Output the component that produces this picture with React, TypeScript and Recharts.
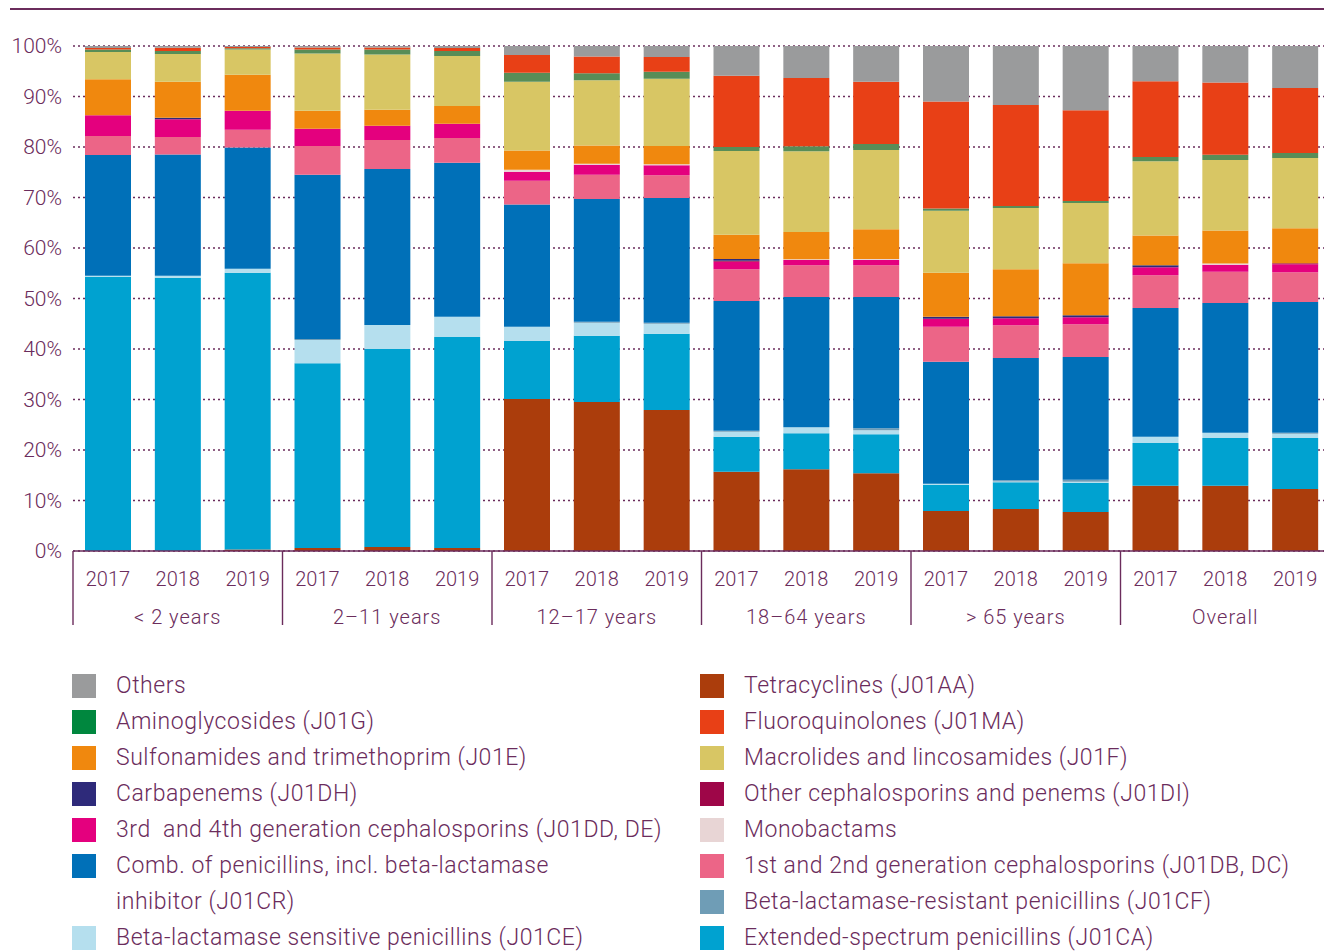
import React from "react";
import { BarChart, Bar, XAxis, YAxis, CartesianGrid } from "recharts";

const groups = ["< 2 years", "2–11 years", "12–17 years", "18–64 years", "> 65 years", "Overall"];
const years = ["2017", "2018", "2019"];
const yTicks = [0, 10, 20, 30, 40, 50, 60, 70, 80, 90, 100];

// values in % per bar (18 bars: 6 groups x 3 years)
const tetracyclines = [0, 0, 0.3, 0.6, 0.8, 0.6, 30.1, 29.5, 27.9, 15.7, 16.2, 15.4, 7.9, 8.3, 7.7, 12.9, 12.9, 12.3];
const extendedSpectrum = [54.3, 54.1, 54.8, 36.6, 39.2, 41.8, 11.5, 13.1, 15.1, 6.9, 7.1, 7.7, 5.2, 5.3, 5.8, 8.5, 9.5, 10.1];
const blSensitive = [0.2, 0.4, 0.8, 4.6, 4.75, 4.0, 2.8, 2.6, 2.0, 1.0, 1.2, 0.8, 0.2, 0.15, 0.2, 1.2, 1.0, 0.8];
const blResistant = [0, 0, 0, 0.2, 0, 0, 0, 0.2, 0.2, 0.2, 0, 0.4, 0, 0.25, 0.4, 0, 0, 0.2];
const combPenicillins = [23.9, 24.0, 24.0, 32.5, 30.9, 30.5, 24.2, 24.3, 24.7, 25.7, 25.8, 26.0, 24.2, 24.2, 24.3, 25.5, 25.7, 25.9];
const ceph12 = [3.8, 3.5, 3.5, 5.7, 5.75, 4.9, 4.7, 4.8, 4.5, 6.3, 6.3, 6.3, 6.9, 6.5, 6.5, 6.5, 6.2, 5.9];
const ceph34 = [4.1, 3.5, 3.8, 3.4, 2.8, 2.8, 1.8, 2.0, 2.0, 1.5, 1.0, 1.0, 1.6, 1.4, 1.4, 1.6, 1.4, 1.6];
const monobactams = [0, 0, 0, 0, 0, 0, 0.4, 0.2, 0.2, 0, 0.15, 0.2, 0, 0, 0, 0, 0.25, 0];
const otherCeph = [0, 0, 0, 0, 0, 0, 0, 0, 0, 0.2, 0, 0, 0, 0, 0, 0, 0, 0.2];
const carbapenems = [0, 0.3, 0, 0, 0, 0, 0, 0, 0, 0.3, 0, 0, 0.4, 0.4, 0.4, 0.4, 0, 0];
const sulfonamides = [7.1, 7.1, 7.1, 3.6, 3.2, 3.5, 3.8, 3.6, 3.6, 4.8, 5.4, 5.9, 8.7, 9.3, 10.3, 5.9, 6.5, 6.9];
const macrolides = [5.4, 5.5, 5.0, 11.3, 10.9, 9.9, 13.6, 12.9, 13.3, 16.6, 16.0, 15.7, 12.3, 12.1, 11.9, 14.7, 14.0, 13.9];
const aminoglycosides = [0.5, 0.6, 0.25, 0.8, 1.0, 1.0, 1.8, 1.4, 1.4, 0.8, 1.0, 1.2, 0.4, 0.4, 0.4, 0.8, 1.0, 1.0];
const fluoroquinolones = [0.3, 0.65, 0.25, 0.4, 0.4, 0.6, 3.5, 3.3, 2.9, 14.1, 13.5, 12.3, 21.2, 20.0, 18.0, 15.0, 14.3, 12.9];
const others = [0.4, 0.35, 0.2, 0.3, 0.3, 0.4, 1.8, 2.1, 2.2, 5.9, 6.35, 7.1, 11.0, 11.7, 12.7, 7.0, 7.25, 8.3];

const TEXT = "#6b2c5c";
const FONT = "Roboto, 'Liberation Sans', sans-serif";

// stacking order bottom -> top
const series = [
  { key: "tetra", name: "Tetracyclines (J01AA)", values: tetracyclines, color: "#ab3d0c", legend: "#ab3d0c" },
  { key: "ext", name: "Extended-spectrum penicillins (J01CA)", values: extendedSpectrum, color: "#00a2d0", legend: "#00a2d0" },
  { key: "bls", name: "Beta-lactamase sensitive penicillins (J01CE)", values: blSensitive, color: "#b5dfee", legend: "#b5dfee" },
  { key: "blr", name: "Beta-lactamase-resistant penicillins (J01CF)", values: blResistant, color: "#6f9db6", legend: "#6f9db6" },
  { key: "comb", name: "Comb. of penicillins, incl. beta-lactamase\ninhibitor (J01CR)", values: combPenicillins, color: "#0070b8", legend: "#0070b8" },
  { key: "c12", name: "1st and 2nd generation cephalosporins (J01DB, DC)", values: ceph12, color: "#ec6587", legend: "#ec6587" },
  { key: "c34", name: "3rd  and 4th generation cephalosporins (J01DD, DE)", values: ceph34, color: "#e4007e", legend: "#e4007e" },
  { key: "mono", name: "Monobactams", values: monobactams, color: "#e8d5d5", legend: "#e8d5d5" },
  { key: "oc", name: "Other cephalosporins and penems (J01DI)", values: otherCeph, color: "#9e0648", legend: "#9e0648" },
  { key: "carba", name: "Carbapenems (J01DH)", values: carbapenems, color: "#2e2a7a", legend: "#2e2a7a" },
  { key: "sulfa", name: "Sulfonamides and trimethoprim (J01E)", values: sulfonamides, color: "#f0880e", legend: "#f0880e" },
  { key: "macro", name: "Macrolides and lincosamides (J01F)", values: macrolides, color: "#d8c664", legend: "#d8c664" },
  { key: "amino", name: "Aminoglycosides (J01G)", values: aminoglycosides, color: "#588d57", legend: "#00873e" },
  { key: "fluoro", name: "Fluoroquinolones (J01MA)", values: fluoroquinolones, color: "#e84016", legend: "#e84016" },
  { key: "others", name: "Others", values: others, color: "#9a9b9c", legend: "#9a9b9c" },
];

const legendLeft = ["others", "amino", "sulfa", "carba", "c34", "comb", "bls"];
const legendRight = ["tetra", "fluoro", "macro", "oc", "mono", "c12", "blr", "ext"];

const data = groups.flatMap((g, gi) =>
  years.map((y, yi) => {
    const idx = gi * 3 + yi;
    const row: Record<string, any> = { id: `${g}-${y}`, year: y, group: g };
    series.forEach((s) => {
      row[s.key] = s.values[idx];
    });
    return row;
  })
);

const XTick = (props: any) => {
  const { x, y, payload, index } = props;
  const row = data[index];
  const half = payload && payload.offset ? payload.offset : 0;
  return (
    <g>
      <text x={x} y={y + 28} textAnchor="middle" dominantBaseline="central" fill={TEXT} fontSize={20} fontWeight={300} fontFamily={FONT}>
        {row.year}
      </text>
      {index % 3 === 1 && (
        <text x={x} y={y + 66} textAnchor="middle" dominantBaseline="central" fill={TEXT} fontSize={20} fontWeight={300} fontFamily={FONT} letterSpacing={1}>
          {row.group}
        </text>
      )}
      {index % 3 === 0 && (
        <line x1={x - half} x2={x - half} y1={y} y2={y + 74} stroke={TEXT} strokeWidth={1.4} />
      )}
    </g>
  );
};

const LegendItem = ({ k }: { k: string }) => {
  const s = series.find((q) => q.key === k)!;
  return (
    <div style={{ display: "flex", alignItems: "flex-start" }}>
      <div style={{ width: 24, height: 24, marginTop: 6, background: s.legend, flex: "0 0 24px" }} />
      <div style={{ marginLeft: 20, whiteSpace: "pre-wrap", lineHeight: "36px" }}>{s.name}</div>
    </div>
  );
};

export default function App() {
  const legendStyle = { position: "absolute" as const, top: 668, color: TEXT, fontSize: 23, fontWeight: 300, letterSpacing: "0.55px" };
  return (
    <div style={{ position: "absolute", left: 0, top: 0, width: 1324, height: 951, overflow: "hidden", background: "#fff", fontFamily: FONT }}>
      <div style={{ position: "absolute", left: 10, top: 8, width: 1314, height: 2, background: TEXT }} />
      <div style={{ position: "absolute", left: 0, top: 0 }}>
        <BarChart width={1340} height={640} data={data} margin={{ top: 46, right: 10, bottom: 0, left: 0 }} barSize={46}>
          <CartesianGrid vertical={false} stroke={TEXT} strokeDasharray="2 3" strokeWidth={1.6} />
          <YAxis
            type="number"
            domain={[0, 100]}
            ticks={yTicks}
            allowDataOverflow
            width={73}
            axisLine={false}
            tickLine={false}
            tickSize={0}
            tickMargin={11}
            tickFormatter={(v: number) => `${v}%`}
            tick={{ fill: TEXT, fontSize: 21, fontWeight: 300, fontFamily: FONT }}
          />
          <XAxis
            dataKey="id"
            type="category"
            interval={0}
            height={89}
            tickSize={0}
            tickMargin={0}
            tickLine={false}
            axisLine={{ stroke: TEXT, strokeWidth: 1.6 }}
            tick={<XTick />}
          />
          {series.map((s) => (
            <Bar key={s.key} dataKey={s.key} stackId="a" fill={s.color} isAnimationActive={false} />
          ))}
        </BarChart>
      </div>
      <div style={{ ...legendStyle, left: 72 }}>
        {legendLeft.map((k) => (
          <LegendItem key={k} k={k} />
        ))}
      </div>
      <div style={{ ...legendStyle, left: 700 }}>
        {legendRight.map((k) => (
          <LegendItem key={k} k={k} />
        ))}
      </div>
    </div>
  );
}
